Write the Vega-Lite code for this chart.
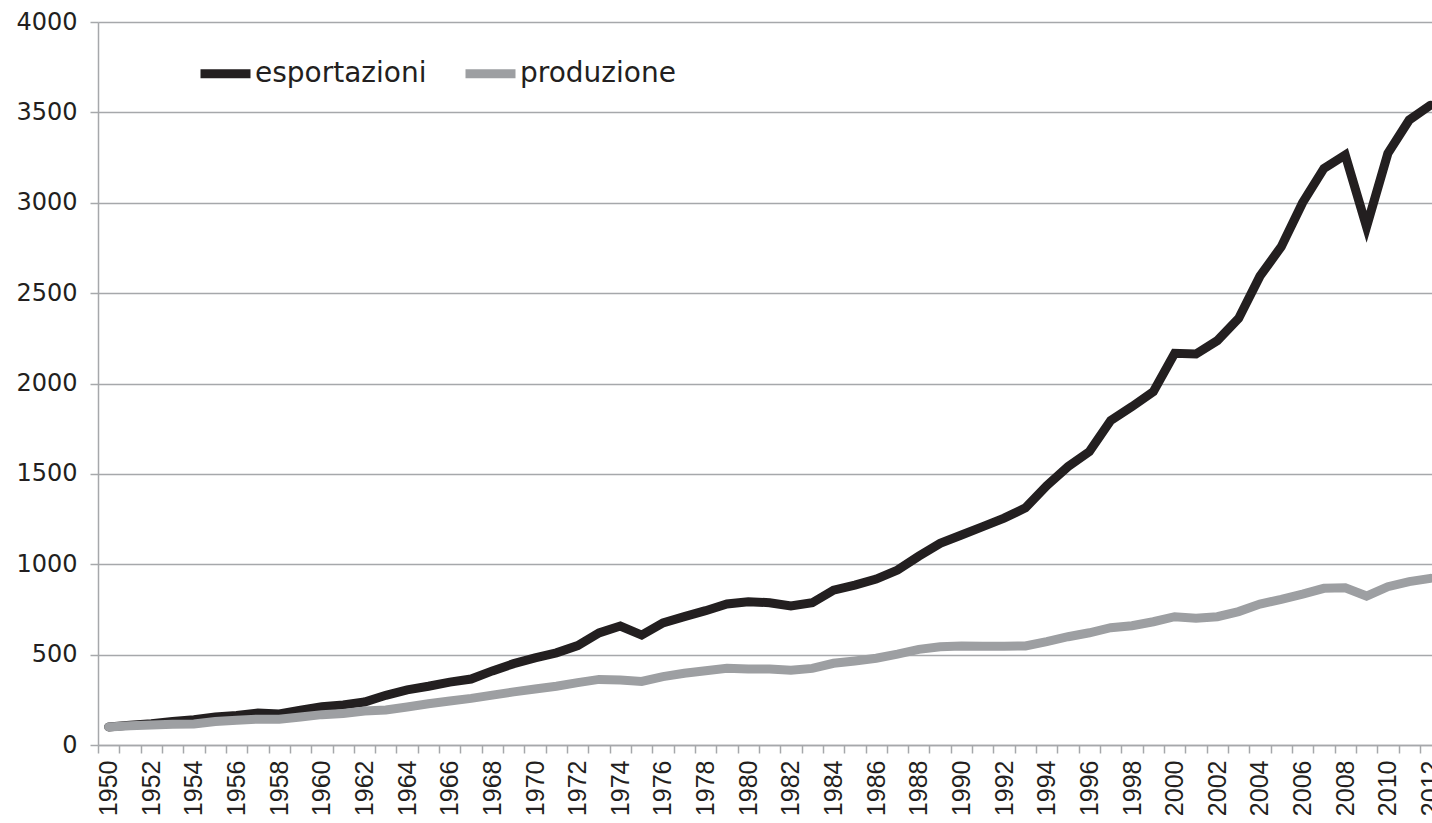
{
  "$schema": "https://vega.github.io/schema/vega-lite/v6.json",
  "width": 1334,
  "height": 723,
  "autosize": {"type": "none"},
  "padding": {"left": 98, "top": 22, "right": 0, "bottom": 78},
  "background": "white",
  "config": {"view": {"stroke": null}},
  "data": {
    "values": [
      {"anno": 1950, "esportazioni": 100, "produzione": 100},
      {"anno": 1951, "esportazioni": 110, "produzione": 107},
      {"anno": 1952, "esportazioni": 118, "produzione": 111},
      {"anno": 1953, "esportazioni": 130, "produzione": 115},
      {"anno": 1954, "esportazioni": 140, "produzione": 116},
      {"anno": 1955, "esportazioni": 155, "produzione": 130},
      {"anno": 1956, "esportazioni": 163, "produzione": 137},
      {"anno": 1957, "esportazioni": 177, "produzione": 143},
      {"anno": 1958, "esportazioni": 172, "produzione": 142},
      {"anno": 1959, "esportazioni": 192, "produzione": 155},
      {"anno": 1960, "esportazioni": 212, "produzione": 168},
      {"anno": 1961, "esportazioni": 222, "produzione": 174},
      {"anno": 1962, "esportazioni": 238, "produzione": 188},
      {"anno": 1963, "esportazioni": 275, "produzione": 194},
      {"anno": 1964, "esportazioni": 305, "produzione": 210},
      {"anno": 1965, "esportazioni": 325, "produzione": 228},
      {"anno": 1966, "esportazioni": 348, "produzione": 243},
      {"anno": 1967, "esportazioni": 365, "produzione": 258},
      {"anno": 1968, "esportazioni": 410, "produzione": 276},
      {"anno": 1969, "esportazioni": 450, "produzione": 294},
      {"anno": 1970, "esportazioni": 482, "produzione": 310},
      {"anno": 1971, "esportazioni": 510, "produzione": 325},
      {"anno": 1972, "esportazioni": 550, "produzione": 345},
      {"anno": 1973, "esportazioni": 620, "produzione": 363},
      {"anno": 1974, "esportazioni": 658, "produzione": 360},
      {"anno": 1975, "esportazioni": 608, "produzione": 352},
      {"anno": 1976, "esportazioni": 676, "produzione": 378},
      {"anno": 1977, "esportazioni": 710, "produzione": 397},
      {"anno": 1978, "esportazioni": 743, "produzione": 411},
      {"anno": 1979, "esportazioni": 780, "produzione": 424},
      {"anno": 1980, "esportazioni": 793, "produzione": 420},
      {"anno": 1981, "esportazioni": 787, "produzione": 420},
      {"anno": 1982, "esportazioni": 769, "produzione": 413},
      {"anno": 1983, "esportazioni": 787, "produzione": 424},
      {"anno": 1984, "esportazioni": 857, "produzione": 452},
      {"anno": 1985, "esportazioni": 885, "produzione": 465},
      {"anno": 1986, "esportazioni": 918, "produzione": 480},
      {"anno": 1987, "esportazioni": 968, "produzione": 503},
      {"anno": 1988, "esportazioni": 1045, "produzione": 529},
      {"anno": 1989, "esportazioni": 1116, "produzione": 544},
      {"anno": 1990, "esportazioni": 1162, "produzione": 548},
      {"anno": 1991, "esportazioni": 1208, "produzione": 546},
      {"anno": 1992, "esportazioni": 1255, "produzione": 546},
      {"anno": 1993, "esportazioni": 1312, "produzione": 548},
      {"anno": 1994, "esportazioni": 1435, "produzione": 572},
      {"anno": 1995, "esportazioni": 1540, "produzione": 599},
      {"anno": 1996, "esportazioni": 1623, "produzione": 621},
      {"anno": 1997, "esportazioni": 1795, "produzione": 649},
      {"anno": 1998, "esportazioni": 1872, "produzione": 660},
      {"anno": 1999, "esportazioni": 1955, "produzione": 682},
      {"anno": 2000, "esportazioni": 2167, "produzione": 710},
      {"anno": 2001, "esportazioni": 2163, "produzione": 701},
      {"anno": 2002, "esportazioni": 2237, "produzione": 710},
      {"anno": 2003, "esportazioni": 2360, "produzione": 738},
      {"anno": 2004, "esportazioni": 2594, "produzione": 780},
      {"anno": 2005, "esportazioni": 2757, "produzione": 806},
      {"anno": 2006, "esportazioni": 3000, "produzione": 835},
      {"anno": 2007, "esportazioni": 3190, "produzione": 867},
      {"anno": 2008, "esportazioni": 3264, "produzione": 870},
      {"anno": 2009, "esportazioni": 2867, "produzione": 824},
      {"anno": 2010, "esportazioni": 3273, "produzione": 876},
      {"anno": 2011, "esportazioni": 3458, "produzione": 904},
      {"anno": 2012, "esportazioni": 3540, "produzione": 922}
    ]
  },
  "transform": [
    {"fold": ["esportazioni", "produzione"], "as": ["serie", "valore"]}
  ],
  "mark": {"type": "line", "strokeWidth": 9, "strokeCap": "round", "strokeJoin": "miter"},
  "encoding": {
    "x": {
      "field": "anno",
      "type": "quantitative",
      "scale": {"domain": [1949.5, 2012.07], "nice": false, "zero": false},
      "axis": {
        "title": null,
        "grid": false,
        "values": [1950,1951,1952,1953,1954,1955,1956,1957,1958,1959,1960,1961,1962,1963,1964,1965,1966,1967,1968,1969,1970,1971,1972,1973,1974,1975,1976,1977,1978,1979,1980,1981,1982,1983,1984,1985,1986,1987,1988,1989,1990,1991,1992,1993,1994,1995,1996,1997,1998,1999,2000,2001,2002,2003,2004,2005,2006,2007,2008,2009,2010,2011,2012],
        "format": "d",
        "labelExpr": "datum.value % 2 === 0 ? datum.label : ''",
        "labelOverlap": false,
        "labelFlush": false,
        "labelAngle": -90,
        "labelAlign": "right",
        "labelBaseline": "middle",
        "labelFont": "Liberation Sans",
        "labelFontSize": 25,
        "labelColor": "#231f20",
        "labelPadding": 7,
        "tickOffset": -10.66,
        "labelOffset": 10.66,
        "tickSize": 8,
        "tickColor": "#a6a8ab",
        "tickWidth": 1.5,
        "domainColor": "#a6a8ab",
        "domainWidth": 1.5
      }
    },
    "y": {
      "field": "valore",
      "type": "quantitative",
      "scale": {"domain": [0, 4000], "nice": false},
      "axis": {
        "title": null,
        "values": [0, 500, 1000, 1500, 2000, 2500, 3000, 3500, 4000],
        "format": "d",
        "grid": true,
        "gridColor": "#a6a8ab",
        "gridWidth": 1.5,
        "tickSize": 8,
        "tickColor": "#a6a8ab",
        "tickWidth": 1.5,
        "domainColor": "#a6a8ab",
        "domainWidth": 1.5,
        "labelFont": "DejaVu Sans",
        "labelFontSize": 24,
        "labelColor": "#231f20",
        "labelPadding": 13
      }
    },
    "color": {
      "field": "serie",
      "type": "nominal",
      "scale": {"domain": ["esportazioni", "produzione"], "range": ["#231f20", "#9d9fa2"]},
      "legend": {
        "title": null,
        "orient": "none",
        "direction": "horizontal",
        "legendX": 98,
        "legendY": 22,
        "padding": 0,
        "symbolType": "stroke",
        "symbolSize": 2500,
        "symbolStrokeWidth": 9,
        "labelFont": "DejaVu Sans",
        "labelFontSize": 28,
        "labelColor": "#231f20",
        "labelOffset": 0,
        "columnPadding": 20,
        "labelLimit": 400
      }
    }
  }
}
